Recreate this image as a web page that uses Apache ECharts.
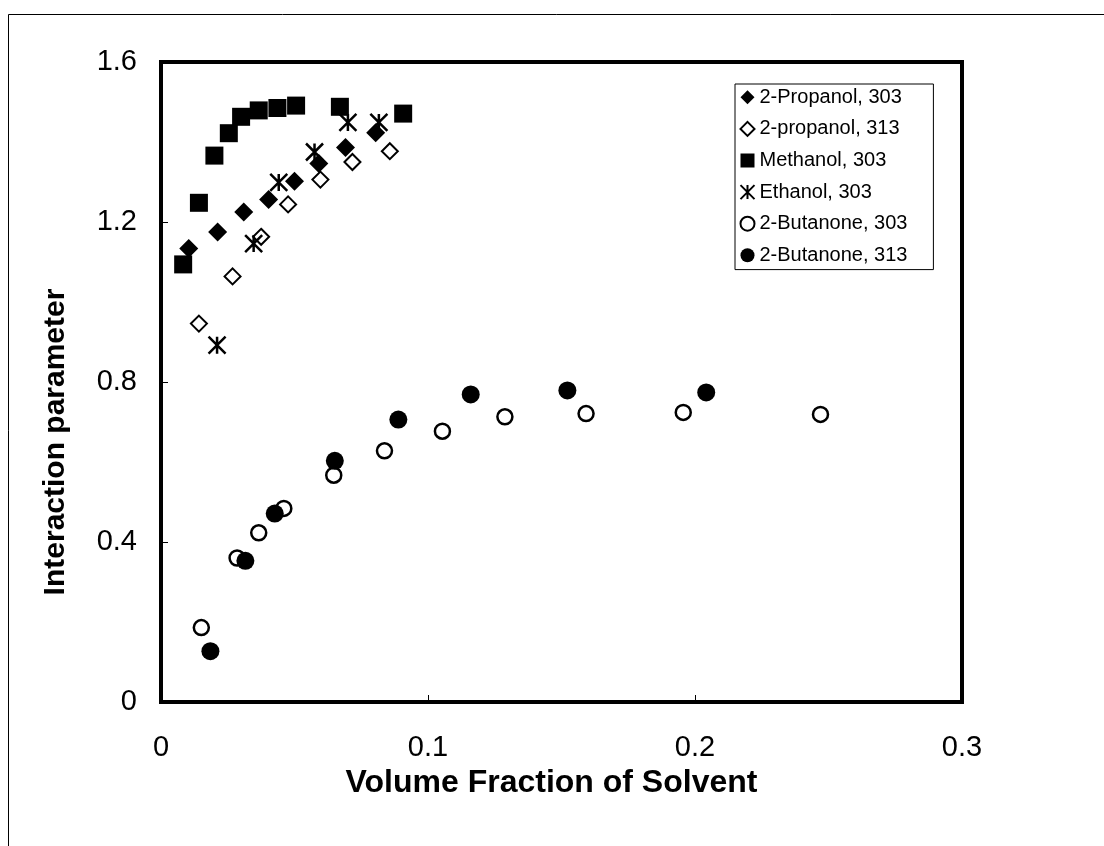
<!DOCTYPE html>
<html>
<head>
<meta charset="utf-8">
<script src="https://cdn.jsdelivr.net/npm/echarts@6/dist/echarts.min.js"></script>
<style>
  html, body { margin: 0; padding: 0; background: #fff; }
  #chart { width: 1104px; height: 846px; }
</style>
</head>
<body>
<div id="chart"></div>
<script>
const xTicks = [0, 0.1, 0.2, 0.3];
const yTicks = [0, 0.4, 0.8, 1.2, 1.6];

const propanol303X = [0.0104, 0.0212, 0.031, 0.0403, 0.050, 0.0591, 0.0691, 0.0804];
const propanol303Y = [1.134, 1.175, 1.225, 1.256, 1.302, 1.346, 1.386, 1.423];
const propanol313X = [0.0142, 0.0268, 0.0375, 0.0476, 0.0597, 0.0717, 0.0857];
const propanol313Y = [0.946, 1.064, 1.163, 1.244, 1.306, 1.350, 1.377];
const methanolX = [0.0083, 0.0142, 0.020, 0.0254, 0.030, 0.0366, 0.0436, 0.0506, 0.067, 0.0907];
const methanolY = [1.094, 1.248, 1.366, 1.422, 1.463, 1.479, 1.485, 1.491, 1.488, 1.471];
const ethanolX = [0.021, 0.0347, 0.0441, 0.0575, 0.070, 0.0816];
const ethanolY = [0.892, 1.146, 1.299, 1.375, 1.449, 1.449];
const butanone303X = [0.0151, 0.0285, 0.0366, 0.046, 0.0647, 0.0837, 0.1054, 0.1288, 0.1592, 0.1956, 0.247];
const butanone303Y = [0.186, 0.360, 0.423, 0.484, 0.567, 0.628, 0.677, 0.713, 0.721, 0.724, 0.719];
const butanone313X = [0.0185, 0.0316, 0.0426, 0.0651, 0.0889, 0.116, 0.1522, 0.2042];
const butanone313Y = [0.127, 0.353, 0.471, 0.603, 0.706, 0.769, 0.779, 0.774];

const pairs = (xs, ys) => xs.map((x, i) => [x, ys[i]]);
const font = 'Liberation Sans, Arial, sans-serif';
const star = 'path://M0,0L10,10M10,0L0,10M5,0L5,10';

const chart = echarts.init(document.getElementById('chart'), null, { renderer: 'canvas' });

const option = {
  animation: false,
  backgroundColor: '#fff',
  textStyle: { fontFamily: font, color: '#000' },
  graphic: [{
    type: 'polyline',
    shape: { points: [[8.5, 846], [8.5, 14.5], [1104, 14.5]] },
    style: { stroke: '#000', lineWidth: 1, fill: null }
  }],
  grid: {
    left: 161, right: 142, top: 62, bottom: 144,
    show: true, borderColor: '#000', borderWidth: 4, backgroundColor: 'transparent'
  },
  legend: {
    orient: 'vertical',
    left: 735, top: 84,
    padding: [3, 26, 4, 3],
    backgroundColor: '#fff',
    borderColor: '#000', borderWidth: 1,
    itemWidth: 14, itemHeight: 14, itemGap: 11,
    textStyle: { fontFamily: font, fontSize: 20, color: '#000', lineHeight: 20.6 },
    data: ['2-Propanol, 303', '2-propanol, 313', 'Methanol, 303', 'Ethanol, 303', '2-Butanone, 303', '2-Butanone, 313']
  },
  xAxis: {
    type: 'value',
    min: xTicks[0], max: xTicks[xTicks.length - 1], interval: 0.1,
    name: 'Volume Fraction of Solvent',
    nameLocation: 'middle', nameGap: 64,
    nameTextStyle: { fontFamily: font, fontSize: 32, fontWeight: 'bold', color: '#000', padding: [0, 20, 0, 0] },
    axisLine: { show: true, lineStyle: { color: '#000', width: 4 } },
    axisTick: { show: true, inside: true, length: 7, lineStyle: { color: '#000', width: 1 } },
    axisLabel: { fontFamily: font, fontSize: 29, color: '#000', margin: 31, formatter: v => String(v) },
    splitLine: { show: false }
  },
  yAxis: {
    type: 'value',
    min: yTicks[0], max: yTicks[yTicks.length - 1], interval: 0.4,
    name: 'Interaction parameter',
    nameLocation: 'middle', nameGap: 90,
    nameTextStyle: { fontFamily: font, fontSize: 30, fontWeight: 'bold', color: '#000', padding: [0, 120, 0, 0] },
    axisLine: { show: true, lineStyle: { color: '#000', width: 4 } },
    axisTick: { show: true, inside: true, length: 7, lineStyle: { color: '#000', width: 1 } },
    axisLabel: { fontFamily: font, fontSize: 29, color: '#000', margin: 24, formatter: v => String(v) },
    splitLine: { show: false }
  },
  series: [
    {
      name: '2-Propanol, 303', type: 'scatter', symbol: 'diamond', symbolSize: 19,
      itemStyle: { color: '#000', opacity: 1 },
      data: pairs(propanol303X, propanol303Y)
    },
    {
      name: '2-propanol, 313', type: 'scatter', symbol: 'diamond', symbolSize: 16,
      itemStyle: { color: '#fff', borderColor: '#000', borderWidth: 2, opacity: 1 },
      data: pairs(propanol313X, propanol313Y)
    },
    {
      name: 'Methanol, 303', type: 'scatter', symbol: 'rect', symbolSize: 18,
      itemStyle: { color: '#000', opacity: 1 },
      data: pairs(methanolX, methanolY)
    },
    {
      name: 'Ethanol, 303', type: 'scatter', symbol: star, symbolSize: 17,
      itemStyle: { color: 'none', borderColor: '#000', borderWidth: 2.5, opacity: 1 },
      data: pairs(ethanolX, ethanolY)
    },
    {
      name: '2-Butanone, 303', type: 'scatter', symbol: 'circle', symbolSize: 15,
      itemStyle: { color: '#fff', borderColor: '#000', borderWidth: 2.5, opacity: 1 },
      data: pairs(butanone303X, butanone303Y)
    },
    {
      name: '2-Butanone, 313', type: 'scatter', symbol: 'circle', symbolSize: 18,
      itemStyle: { color: '#000', opacity: 1 },
      data: pairs(butanone313X, butanone313Y)
    }
  ]
};

chart.setOption(option);
</script>
</body>
</html>
